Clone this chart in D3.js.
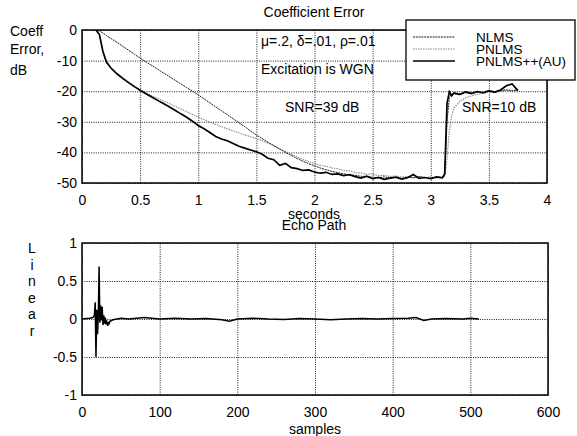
<!DOCTYPE html>
<meta charset="utf-8">
<style>
body { margin: 0; background: #fff; }
svg text { font-family: "Liberation Sans", Arial, sans-serif; font-size: 14px; fill: #000; }
.grid line { stroke: #000; stroke-width: 0.9; stroke-dasharray: 1,1.3; }
.grid path { display: none; }
.tk path, .tk line { display: none; }
.leg text { font-size: 13.5px; }
</style>
<svg width="577" height="436"></svg>
<script src="https://d3js.org/d3.v7.min.js"></script>
<script>

// time axis (seconds) shared by the three coefficient-error curves
var secs = [0.12, 0.15, 0.18, 0.21, 0.25, 0.30, 0.35, 0.40, 0.45, 0.50, 0.55, 0.60, 0.65, 0.70, 0.75,
  0.80, 0.85, 0.90, 0.95, 1.00, 1.05, 1.10, 1.15, 1.20, 1.25, 1.30, 1.35, 1.40, 1.45, 1.50,
  1.55, 1.60, 1.65, 1.70, 1.75, 1.80, 1.85, 1.90, 1.95, 2.00, 2.05, 2.10, 2.15, 2.20, 2.25,
  2.30, 2.35, 2.40, 2.45, 2.50, 2.55, 2.60, 2.65, 2.70, 2.75, 2.80, 2.85, 2.90, 2.95, 3.00,
  3.05, 3.10, 3.12, 3.14, 3.16, 3.18, 3.20, 3.25, 3.30, 3.35, 3.40, 3.45, 3.50, 3.55, 3.60,
  3.65, 3.70, 3.75];

var nlms = [0, -0.3, -1.0, -1.8, -2.8, -4.0, -5.3, -6.6, -7.9, -9.2, -10.4, -11.6, -12.8, -14.0, -15.2,
  -16.4, -17.6, -18.8, -20.0, -21.2, -22.5, -23.8, -25.1, -26.4, -27.7, -29.0, -30.3, -31.6, -33.0, -34.3,
  -35.5, -36.7, -37.8, -38.9, -40.0, -41.0, -42.0, -42.9, -43.7, -44.4, -45.1, -45.7, -46.2, -46.6, -47.0,
  -47.3, -47.5, -47.8, -47.9, -48.1, -48.3, -48.0, -48.4, -48.2, -48.5, -48.1, -48.3, -47.9, -48.2, -48.4,
  -48.0, -48.2, -47.5, -30.0, -22.0, -21.0, -20.8, -21.2, -20.5, -20.9, -20.3, -20.6, -20.0, -20.4, -19.8,
  -19.5, -19.9, -19.6];

var pnlms = [0, -1.5, -7.0, -10.3, -12.3, -14.1, -15.6, -17.0, -18.3, -19.5, -20.5, -21.5, -22.4, -23.2, -24.0,
  -24.9, -25.8, -26.7, -27.6, -28.5, -29.3, -30.1, -30.9, -31.6, -32.3, -33.0, -33.6, -34.3, -34.9, -35.5,
  -36.2, -37.0, -37.8, -38.8, -39.7, -40.6, -41.5, -42.3, -43.0, -43.6, -44.2, -44.5, -45.1, -45.3, -45.9,
  -46.0, -46.6, -46.7, -47.2, -47.0, -47.6, -47.5, -47.9, -47.7, -48.1, -47.8, -48.2, -47.9, -48.3, -48.0,
  -48.4, -48.1, -48.0, -42.0, -33.0, -28.0, -25.5, -23.3, -22.2, -21.5, -21.0, -20.7, -20.4, -20.2, -20.0,
  -19.8, -19.7, -19.7];

var pnlmsPP = [0, -1.5, -7.0, -10.5, -12.5, -14.3, -15.8, -17.2, -18.5, -19.7, -20.8, -21.9, -23.0, -24.0, -25.1,
  -26.2, -27.4, -28.5, -29.8, -31.2, -32.3, -33.5, -34.8, -35.6, -36.2, -37.1, -38.0, -38.6, -39.2, -39.8,
  -40.6, -41.9, -42.4, -44.2, -43.6, -45.0, -45.3, -45.9, -45.7, -46.4, -46.8, -46.5, -47.2, -47.0, -47.6,
  -47.3, -47.9, -48.4, -47.8, -48.6, -48.2, -48.8, -48.4, -48.1, -48.7, -48.3, -47.2, -48.5, -48.2, -48.6,
  -48.0, -48.3, -47.0, -24.0, -20.2, -21.5, -20.6, -21.0, -20.2, -20.7, -20.1, -20.5, -19.8, -20.3, -19.6,
  -18.2, -17.6, -19.8];

// echo path impulse response (samples / linear amplitude)
var echoSample = [0, 5, 10, 14, 15, 16, 17, 18, 19, 20, 21, 22, 23, 24, 25, 26, 27, 28, 29, 30, 31, 32, 33,
  34, 35, 36, 38, 40, 50, 60, 70, 80, 90, 100, 120, 140, 160, 180, 190, 200, 220, 240, 260, 280, 300,
  320, 340, 360, 380, 400, 420, 430, 440, 450, 470, 490, 500, 511];
var echoValue = [0, 0.005, 0.01, 0.02, 0.03, 0.05, 0.22, -0.50, 0.12, -0.20, 0.05, 0.69, -0.05, 0.18, -0.02,
  0.16, -0.08, 0.05, -0.06, 0.02, -0.07, -0.04, -0.09, -0.05, -0.06, -0.03, -0.02, -0.01, 0.01, 0, 0.01,
  0.02, 0.01, 0, 0.01, 0, 0.005, -0.01, -0.03, 0, 0.01, 0, -0.005, 0.005, 0, -0.01, 0, 0.005, 0, 0.005,
  0.01, 0.02, -0.02, 0, 0.005, 0, 0.01, 0];

var secTicks = [0, 0.5, 1, 1.5, 2, 2.5, 3, 3.5, 4];
var dbTicks = [0, -10, -20, -30, -40, -50];
var sampleTicks = [0, 100, 200, 300, 400, 500, 600];
var linTicks = [1, 0.5, 0, -0.5, -1];

var svg = d3.select("svg");

// ---------- top: coefficient error ----------
var x0 = d3.scaleLinear().domain([0, 4]).range([82, 547]),
    y0 = d3.scaleLinear().domain([-50, 0]).range([183, 30]);

svg.append("g").attr("class", "grid").attr("transform", "translate(0,183)")
    .call(d3.axisBottom(x0).tickValues(secTicks).tickSize(-153).tickFormat(""));
svg.append("g").attr("class", "grid").attr("transform", "translate(82,0)")
    .call(d3.axisLeft(y0).tickValues(dbTicks).tickSize(-465).tickFormat(""));

svg.append("g").attr("class", "tk").attr("transform", "translate(0,183)")
    .call(d3.axisBottom(x0).tickValues(secTicks).tickSize(0).tickPadding(12).tickFormat(function(d) { return String(d); }));
svg.append("g").attr("class", "tk").attr("transform", "translate(82,0)")
    .call(d3.axisLeft(y0).tickValues(dbTicks).tickSize(0).tickPadding(5).tickFormat(function(d) { return String(d); }));

svg.append("clipPath").attr("id", "c0").append("rect")
    .attr("x", 82).attr("y", 30).attr("width", 465).attr("height", 153);

function curve(vals) {
  return d3.line().x(function(d, i) { return x0(secs[i]); }).y(function(d) { return y0(d); })(vals);
}

var g0 = svg.append("g").attr("clip-path", "url(#c0)");
g0.append("path").attr("d", curve(pnlms)).attr("fill", "none")
    .attr("stroke", "#8a8a8a").attr("stroke-width", 1.1).attr("stroke-dasharray", "1.5,1");
g0.append("path").attr("d", curve(nlms)).attr("fill", "none")
    .attr("stroke", "#1a1a1a").attr("stroke-width", 1).attr("stroke-dasharray", "2,0.8");
g0.append("path").attr("d", curve(pnlmsPP)).attr("fill", "none")
    .attr("stroke", "#000").attr("stroke-width", 1.7);

svg.append("rect").attr("x", 82).attr("y", 30).attr("width", 465).attr("height", 153)
    .attr("fill", "none").attr("stroke", "#000").attr("stroke-width", 1.5);

svg.append("text").attr("x", 314).attr("y", 17).attr("text-anchor", "middle").text("Coefficient Error");
svg.append("text").attr("x", 10).attr("y", 36).text("Coeff");
svg.append("text").attr("x", 10).attr("y", 54).text("Error,");
svg.append("text").attr("x", 10).attr("y", 75).text("dB");

svg.append("text").attr("x", 261).attr("y", 46).text("\u03bc=.2, \u03b4=.01, \u03c1=.01");
svg.append("text").attr("x", 261).attr("y", 74).text("Excitation is WGN");
svg.append("text").attr("x", 285).attr("y", 112).text("SNR=39 dB");
svg.append("text").attr("x", 462).attr("y", 112).text("SNR=10 dB");

// legend
var legend = svg.append("g").attr("class", "leg");
legend.append("rect").attr("x", 406).attr("y", 20).attr("width", 169).attr("height", 60)
    .attr("fill", "#fff").attr("stroke", "#000").attr("stroke-width", 1.3);
var legRows = [
  {name: "NLMS", color: "#1a1a1a", dash: "2,0.8", w: 1},
  {name: "PNLMS", color: "#8a8a8a", dash: "1.5,1", w: 1.1},
  {name: "PNLMS++(AU)", color: "#000", dash: null, w: 1.3}
];
legRows.forEach(function(r, i) {
  var yy = 37 + i * 12;
  legend.append("line").attr("x1", 413).attr("x2", 455).attr("y1", yy).attr("y2", yy)
      .attr("stroke", r.color).attr("stroke-width", r.w).attr("stroke-dasharray", r.dash);
  legend.append("text").attr("x", 476).attr("y", yy + 5).text(r.name);
});

svg.append("text").attr("x", 314).attr("y", 219).attr("text-anchor", "middle").text("seconds");
svg.append("text").attr("x", 314).attr("y", 230).attr("text-anchor", "middle").text("Echo Path");

// ---------- bottom: echo path ----------
var x1 = d3.scaleLinear().domain([0, 600]).range([82, 548]),
    y1 = d3.scaleLinear().domain([-1, 1]).range([395, 243]);

svg.append("g").attr("class", "grid").attr("transform", "translate(0,395)")
    .call(d3.axisBottom(x1).tickValues(sampleTicks).tickSize(-152).tickFormat(""));
svg.append("g").attr("class", "grid").attr("transform", "translate(82,0)")
    .call(d3.axisLeft(y1).tickValues(linTicks).tickSize(-466).tickFormat(""));

svg.append("g").attr("class", "tk").attr("transform", "translate(0,395)")
    .call(d3.axisBottom(x1).tickValues(sampleTicks).tickSize(0).tickPadding(12).tickFormat(function(d) { return String(d); }));
svg.append("g").attr("class", "tk").attr("transform", "translate(82,0)")
    .call(d3.axisLeft(y1).tickValues(linTicks).tickSize(0).tickPadding(5).tickFormat(function(d) { return String(d); }));

svg.append("path")
    .attr("d", d3.line().x(function(d, i) { return x1(echoSample[i]); }).y(function(d) { return y1(d); })(echoValue))
    .attr("fill", "none").attr("stroke", "#000").attr("stroke-width", 1.5);

svg.append("rect").attr("x", 82).attr("y", 243).attr("width", 466).attr("height", 152)
    .attr("fill", "none").attr("stroke", "#000").attr("stroke-width", 1.5);

"Linear".split("").forEach(function(ch, i) {
  svg.append("text").attr("x", 32).attr("y", 253 + i * 16.5).attr("text-anchor", "middle").text(ch);
});

svg.append("text").attr("x", 315).attr("y", 434).attr("text-anchor", "middle").text("samples");

</script>
